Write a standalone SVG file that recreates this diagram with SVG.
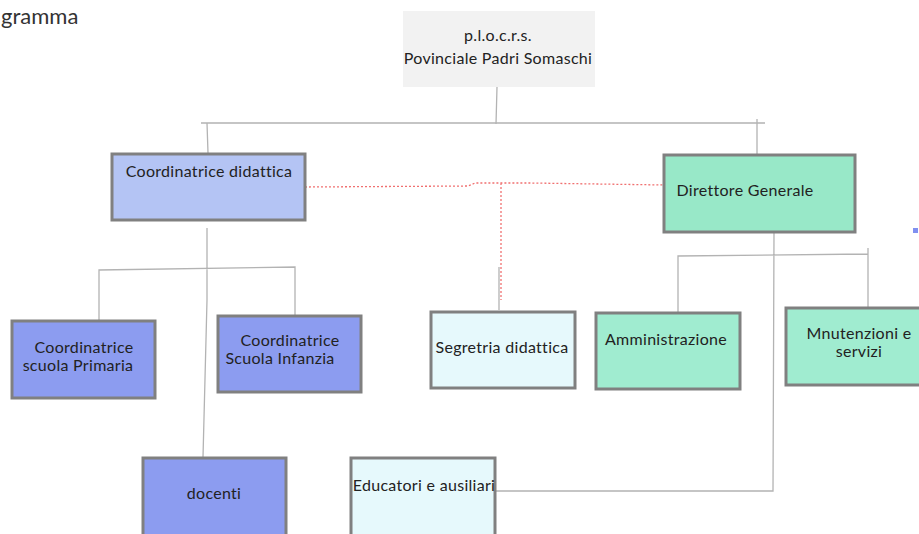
<svg xmlns="http://www.w3.org/2000/svg" width="919" height="534" viewBox="0 0 919 534">
<style>
.box{stroke:#808080;stroke-width:3}
.t{font-family:Lato,"Open Sans","Liberation Sans",sans-serif;font-size:16px;letter-spacing:0.3px;fill:#222;text-anchor:middle}
.ln{stroke:#b3b3b3;stroke-width:1.3;fill:none}
.rd{stroke:#f07070;stroke-width:1.3;stroke-dasharray:2 2;fill:none}
.blue1{fill:#b4c4f4}
.blue2{fill:#8c9cf0}
.green{fill:#98e8c8}
.green2{fill:#a0ecd0}
.cyan{fill:#e6f9fc}
</style>
<rect width="919" height="534" fill="#fff"/>
<text x="1" y="24" style="font-family:Lato,'Open Sans','Liberation Sans',sans-serif;font-size:22px;fill:#333">gramma</text>
<g id="connectors">
<path class="ln" d="M497 87 L496 124 M201 123 L765 123 M207 123 L208 153 M757 119 L757 154"/>
<path class="ln" d="M207 228 L207 300 L203 457 M99 320 L99 270 L295 267 L295 315"/>
<path class="ln" d="M499 267 L499 310"/>
<path class="ln" d="M774 232 L773 491 L495 491 M678 315 L678 256 L868 254 M868 248 L868 307"/>
<path class="rd" d="M305 187 L468 186 L475 183 L530 183 L665 185 M501 183 L501 300"/>
</g>
<g id="n-plocrs">
<rect x="403" y="11" width="192" height="76" fill="#f2f2f2"/>
<text class="t" x="498" y="41">p.l.o.c.r.s.</text>
<text class="t" x="498" y="64">Povinciale Padri Somaschi</text>
</g>
<g id="n-coord-did">
<rect class="box blue1" x="112" y="154" width="193" height="66"/>
<text class="t" x="209" y="177">Coordinatrice didattica</text>
</g>
<g id="n-direttore">
<rect class="box green" x="664" y="155" width="191" height="77"/>
<text class="t" x="745" y="196">Direttore Generale</text>
</g>
<g id="n-primaria">
<rect class="box blue2" x="12" y="321" width="143" height="77"/>
<text class="t" x="84" y="353">Coordinatrice</text>
<text class="t" x="78" y="371">scuola Primaria</text>
</g>
<g id="n-infanzia">
<rect class="box blue2" x="218" y="316" width="143" height="76"/>
<text class="t" x="290" y="346">Coordinatrice</text>
<text class="t" x="280" y="364">Scuola Infanzia</text>
</g>
<g id="n-segretria">
<rect class="box cyan" x="431" y="312" width="144" height="76"/>
<text class="t" x="502" y="353">Segretria didattica</text>
</g>
<g id="n-amministrazione">
<rect class="box green2" x="596" y="313" width="144" height="76"/>
<text class="t" x="666" y="345">Amministrazione</text>
</g>
<g id="n-manutenzioni">
<rect class="box green2" x="786" y="308" width="140" height="77"/>
<text class="t" x="859" y="339">Mnutenzioni e</text>
<text class="t" x="859" y="357">servizi</text>
</g>
<g id="n-docenti">
<rect class="box blue2" x="143" y="458" width="143" height="80"/>
<text class="t" x="214" y="499">docenti</text>
</g>
<g id="n-educatori">
<rect class="box cyan" x="351" y="458" width="144" height="80"/>
<text class="t" x="424" y="491">Educatori e ausiliari</text>
</g>
<rect x="913" y="228" width="5" height="5" fill="#8090f0"/>
</svg>
